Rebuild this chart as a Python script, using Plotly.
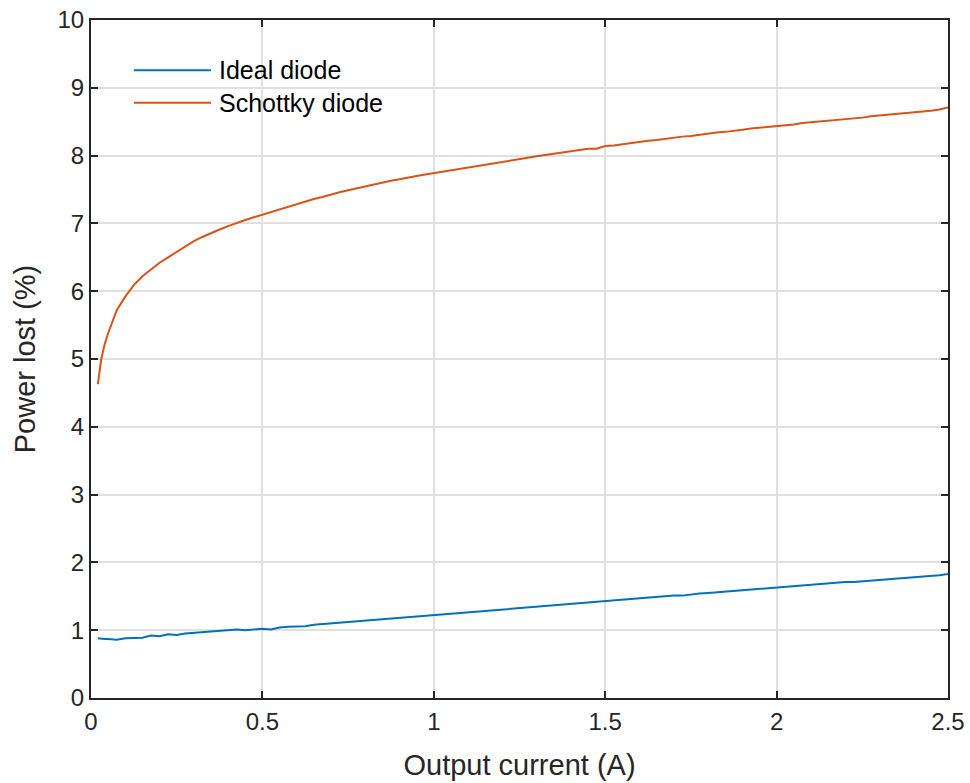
import plotly.graph_objects as go

current_a = [0.02, 0.03, 0.04, 0.05, 0.075, 0.1, 0.125, 0.15, 0.175, 0.2, 0.225, 0.25, 0.275, 0.3,
             0.325, 0.35, 0.375, 0.4, 0.425, 0.45, 0.475, 0.5, 0.525, 0.55, 0.575, 0.6, 0.625, 0.65,
             0.675, 0.7, 0.725, 0.75, 0.775, 0.8, 0.825, 0.85, 0.875, 0.9, 0.925, 0.95, 0.975, 1.0,
             1.025, 1.05, 1.075, 1.1, 1.125, 1.15, 1.175, 1.2, 1.225, 1.25, 1.275, 1.3, 1.325, 1.35,
             1.375, 1.4, 1.425, 1.45, 1.475, 1.5, 1.525, 1.55, 1.575, 1.6, 1.625, 1.65, 1.675, 1.7,
             1.725, 1.75, 1.775, 1.8, 1.825, 1.85, 1.875, 1.9, 1.925, 1.95, 1.975, 2.0, 2.025, 2.05,
             2.075, 2.1, 2.125, 2.15, 2.175, 2.2, 2.225, 2.25, 2.275, 2.3, 2.325, 2.35, 2.375, 2.4,
             2.425, 2.45, 2.475, 2.5]

ideal_diode = [0.88, 0.87, 0.87, 0.87, 0.86, 0.88, 0.89, 0.89, 0.92, 0.91, 0.94, 0.93, 0.95, 0.96,
               0.97, 0.98, 0.99, 1.00, 1.01, 1.00, 1.01, 1.02, 1.01, 1.04, 1.05, 1.05, 1.06, 1.08,
               1.09, 1.10, 1.12, 1.13, 1.14, 1.15, 1.15, 1.16, 1.17, 1.18, 1.19, 1.20, 1.21, 1.23,
               1.24, 1.25, 1.26, 1.27, 1.28, 1.29, 1.30, 1.31, 1.32, 1.33, 1.33, 1.35, 1.36, 1.37,
               1.38, 1.39, 1.40, 1.40, 1.41, 1.42, 1.43, 1.45, 1.46, 1.46, 1.48, 1.49, 1.50, 1.51,
               1.51, 1.53, 1.54, 1.55, 1.56, 1.57, 1.58, 1.59, 1.60, 1.61, 1.63, 1.64, 1.64, 1.65,
               1.66, 1.67, 1.68, 1.69, 1.70, 1.71, 1.71, 1.72, 1.73, 1.74, 1.75, 1.76, 1.77, 1.78,
               1.78, 1.80, 1.81, 1.83]

schottky_diode = [4.63, 5.00, 5.22, 5.38, 5.72, 5.92, 6.09, 6.22, 6.32, 6.42, 6.50, 6.58, 6.66, 6.74,
                  6.80, 6.86, 6.91, 6.96, 7.01, 7.05, 7.09, 7.13, 7.17, 7.21, 7.25, 7.28, 7.32, 7.36,
                  7.39, 7.43, 7.46, 7.49, 7.52, 7.55, 7.57, 7.60, 7.63, 7.65, 7.68, 7.70, 7.72, 7.74,
                  7.77, 7.79, 7.81, 7.83, 7.85, 7.87, 7.89, 7.91, 7.93, 7.95, 7.97, 7.99, 8.01, 8.03,
                  8.05, 8.07, 8.08, 8.10, 8.10, 8.14, 8.15, 8.17, 8.19, 8.20, 8.22, 8.23, 8.25, 8.26,
                  8.28, 8.29, 8.31, 8.32, 8.34, 8.35, 8.36, 8.38, 8.40, 8.41, 8.43, 8.44, 8.45, 8.46,
                  8.48, 8.49, 8.50, 8.51, 8.53, 8.54, 8.55, 8.56, 8.58, 8.59, 8.60, 8.61, 8.63, 8.64,
                  8.65, 8.66, 8.68, 8.71]

series_names = ["Ideal diode", "Schottky diode"]
series_colors = ["#0072BD", "#D95319"]

x_ticks = [0, 0.5, 1, 1.5, 2, 2.5]
x_tick_labels = ["0", "0.5", "1", "1.5", "2", "2.5"]
y_ticks = list(range(0, 11))
y_tick_labels = [str(v) for v in y_ticks]

FONT = "Liberation Sans, Arial, sans-serif"
AXIS_COLOR = "#262626"

fig = go.Figure()
for name, color, ys in zip(series_names, series_colors, [ideal_diode, schottky_diode]):
    fig.add_trace(go.Scatter(x=current_a, y=ys, mode="lines", name=name,
                             line=dict(color=color, width=2), showlegend=False))

axis_common = dict(
    showline=True, linecolor=AXIS_COLOR, linewidth=2, mirror="ticks",
    ticks="inside", ticklen=7, tickwidth=2, tickcolor=AXIS_COLOR,
    showgrid=True, gridcolor="#e0e0e0", gridwidth=1.5, zeroline=False,
    tickfont=dict(family=FONT, size=24, color=AXIS_COLOR),
    ticklabeloverflow="allow", automargin=False,
)

fig.update_xaxes(range=[0, 2.5], tickvals=x_ticks, ticktext=x_tick_labels,
                 title=dict(text="Output current (A)", font=dict(family=FONT, size=29, color=AXIS_COLOR), standoff=21),
                 ticklabelstandoff=1,
                 **axis_common)
fig.update_yaxes(range=[0, 10], tickvals=y_ticks, ticktext=y_tick_labels,
                 title=dict(text="Power lost (%)", font=dict(family=FONT, size=29, color=AXIS_COLOR), standoff=13),
                 **axis_common)

# Legend drawn in MATLAB style: long line samples followed by the series name
legend_rows_y = [0.926, 0.878]
for name, color, yy in zip(series_names, series_colors, legend_rows_y):
    fig.add_shape(type="line", xref="paper", yref="paper", x0=0.050, x1=0.140, y0=yy, y1=yy,
                  line=dict(color=color, width=2))
    fig.add_annotation(xref="paper", yref="paper", x=0.1475, y=yy, xanchor="left", yanchor="middle",
                       text=name, showarrow=False, font=dict(family=FONT, size=25, color="#000000"))

fig.update_layout(
    width=970, height=783,
    margin=dict(l=91, r=22, t=20, b=85),
    paper_bgcolor="white", plot_bgcolor="white",
    font=dict(family=FONT, color=AXIS_COLOR),
    showlegend=False,
)

fig.write_html("out.html", config={"displayModeBar": False},
               post_script="document.body.style.margin='0px';")
